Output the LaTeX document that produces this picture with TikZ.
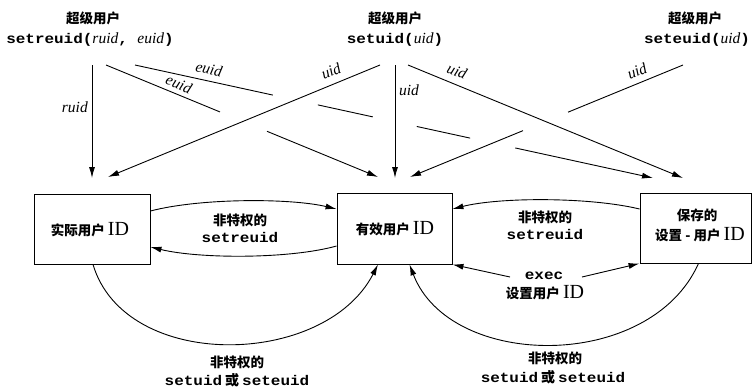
\documentclass[tikz,border=0pt]{standalone}
\usepackage{fontspec}
\usetikzlibrary{arrows.meta,calc}
\newfontfamily\cjk{Noto Sans CJK SC}
\newfontfamily\mono{Liberation Mono}[FakeStretch=1.14]
\newfontfamily\serif{Liberation Serif}
\newcommand\ivar[1]{{\serif\mdseries\itshape\fontsize{15.5}{17}\selectfont #1}}
\newcommand\IDt{{\serif\mdseries\fontsize{20}{20}\selectfont ID}}
\tikzset{
  cj/.style={font=\cjk\bfseries\fontsize{13.5}{17}\selectfont, inner sep=0pt},
  mn/.style={font=\mono\bfseries\fontsize{14}{17}\selectfont, inner sep=0pt},
  lab/.style={font=\serif\itshape\fontsize{15.5}{17}\selectfont, inner sep=0pt},
  idbox/.style={draw, line width=0.9pt, inner sep=0pt},
  arr/.style={-{Latex[length=11pt,width=6pt]}},
  ln/.style={line width=0.9pt}
}
\begin{document}
\begin{tikzpicture}[x=1pt,y=-1pt]
\useasboundingbox (0,0) rectangle (752,389);
\fill[white] (0,0) rectangle (752,389);

% top labels
\node[cj] (su1) at (93,18) {超级用户};
\node[mn] (f1) at (90,40) {setreuid(\ivar{ruid}, \ivar{euid})};
\node[cj] (su2) at (395,18) {超级用户};
\node[mn] (f2) at (395,40) {setuid(\ivar{uid})};
\node[cj] (su3) at (695,18) {超级用户};
\node[mn] (f3) at (697,40) {seteuid(\ivar{uid})};

% boxes
\node[idbox, minimum width=116pt, minimum height=70pt] (real) at (92,229) {};
\node[cj] (realt) at (90,230) {实际用户 \IDt};
\node[idbox, minimum width=115pt, minimum height=71pt] (eff) at (394.5,228.5) {};
\node[cj] (efft) at (395,229) {有效用户 \IDt};
\node[idbox, minimum width=111pt, minimum height=70pt] (saved) at (695.5,228) {};
\node[cj] (savt1) at (697,215) {保存的};
\node[cj] (savt2) at (700,235) {设置 - 用户 \IDt};

% start / end points of superuser lines
\coordinate (a1) at (92,65);   \coordinate (b1) at (92,178);
\coordinate (a2) at (106,65);  \coordinate (b2) at (378,177);
\coordinate (a3) at (135,65);  \coordinate (b3) at (653,178);
\coordinate (a4) at (380,65);  \coordinate (b4) at (108,177);
\coordinate (a5) at (395,65);  \coordinate (b5) at (395,178);
\coordinate (a6) at (408,65);  \coordinate (b6) at (683,178);
\coordinate (a7) at (683,65);  \coordinate (b7) at (410,177);

\draw[ln,arr] (a1) -- (b1);
\draw[ln,arr] (a2) -- ($(a2)!0.419!(b2)$) ($(a2)!0.592!(b2)$) -- (b2);
\draw[ln,arr] (a3) -- ($(a3)!0.266!(b3)$) ($(a3)!0.353!(b3)$) -- ($(a3)!0.459!(b3)$)
              ($(a3)!0.544!(b3)$) -- ($(a3)!0.647!(b3)$) ($(a3)!0.734!(b3)$) -- (b3);
\draw[ln,arr] (a4) -- (b4);
\draw[ln,arr] (a5) -- (b5);
\draw[ln,arr] (a6) -- (b6);
\draw[ln,arr] (a7) -- ($(a7)!0.421!(b7)$) ($(a7)!0.586!(b7)$) -- (b7);

% line labels
\node[lab, anchor=east] (l1) at (88,107) {ruid};
\node[lab, rotate=-12.3] (l3) at (209,69) {euid};
\node[lab, rotate=-22] (l2) at (179,84) {euid};
\node[lab, rotate=22] (l4) at (331,71) {uid};
\node[lab] (l5) at (409,90) {uid};
\node[lab, rotate=-22] (l6) at (457,71) {uid};
\node[lab, rotate=22] (l7) at (637,71) {uid};

% box-to-box arrows
\draw[ln,arr] ([yshift=18pt]real.east) .. controls (200,198) and (290,198) .. ([yshift=19.5pt]eff.west);
\draw[ln,arr] ([yshift=-17.5pt]eff.west) .. controls (290,259) and (200,259) .. ([yshift=-18pt]real.east);
\node[cj] (m1a) at (240,220) {非特权的};
\node[mn] (m1b) at (240,237) {setreuid};

\draw[ln,arr] ([yshift=19pt]saved.west) .. controls (590,197) and (500,197) .. ([yshift=19.5pt]eff.east);
\node[cj] (m2a) at (545,217) {非特权的};
\node[mn] (m2b) at (545,234) {setreuid};

\node[mn] (ex1) at (544,276) {exec};
\node[cj] (ex2) at (545,293) {设置用户 \IDt};
\coordinate (xa) at (510,277);
\coordinate (xb) at (582,277);
\draw[ln,arr] (xa) -- (eff.south east);
\draw[ln,arr] (xb) -- (saved.south west);

% bottom arcs
\draw[ln,arr] ([xshift=1pt]real.south) .. controls (125,372) and (325,368) .. ([xshift=-16.5pt]eff.south);
\draw[ln,arr] ([xshift=3pt]saved.south) .. controls (650,372) and (450,370) .. ([xshift=15pt]eff.south);

\node[cj] (b1a) at (237,362) {非特权的};
\node[mn] (b1b) at (237,380) {setuid\hspace{3pt}{\cjk\bfseries 或}\hspace{3pt}seteuid};
\node[cj] (b2a) at (555,358) {非特权的};
\node[mn] (b2b) at (553,377) {setuid\hspace{3pt}{\cjk\bfseries 或}\hspace{3pt}seteuid};
\end{tikzpicture}
\end{document}
